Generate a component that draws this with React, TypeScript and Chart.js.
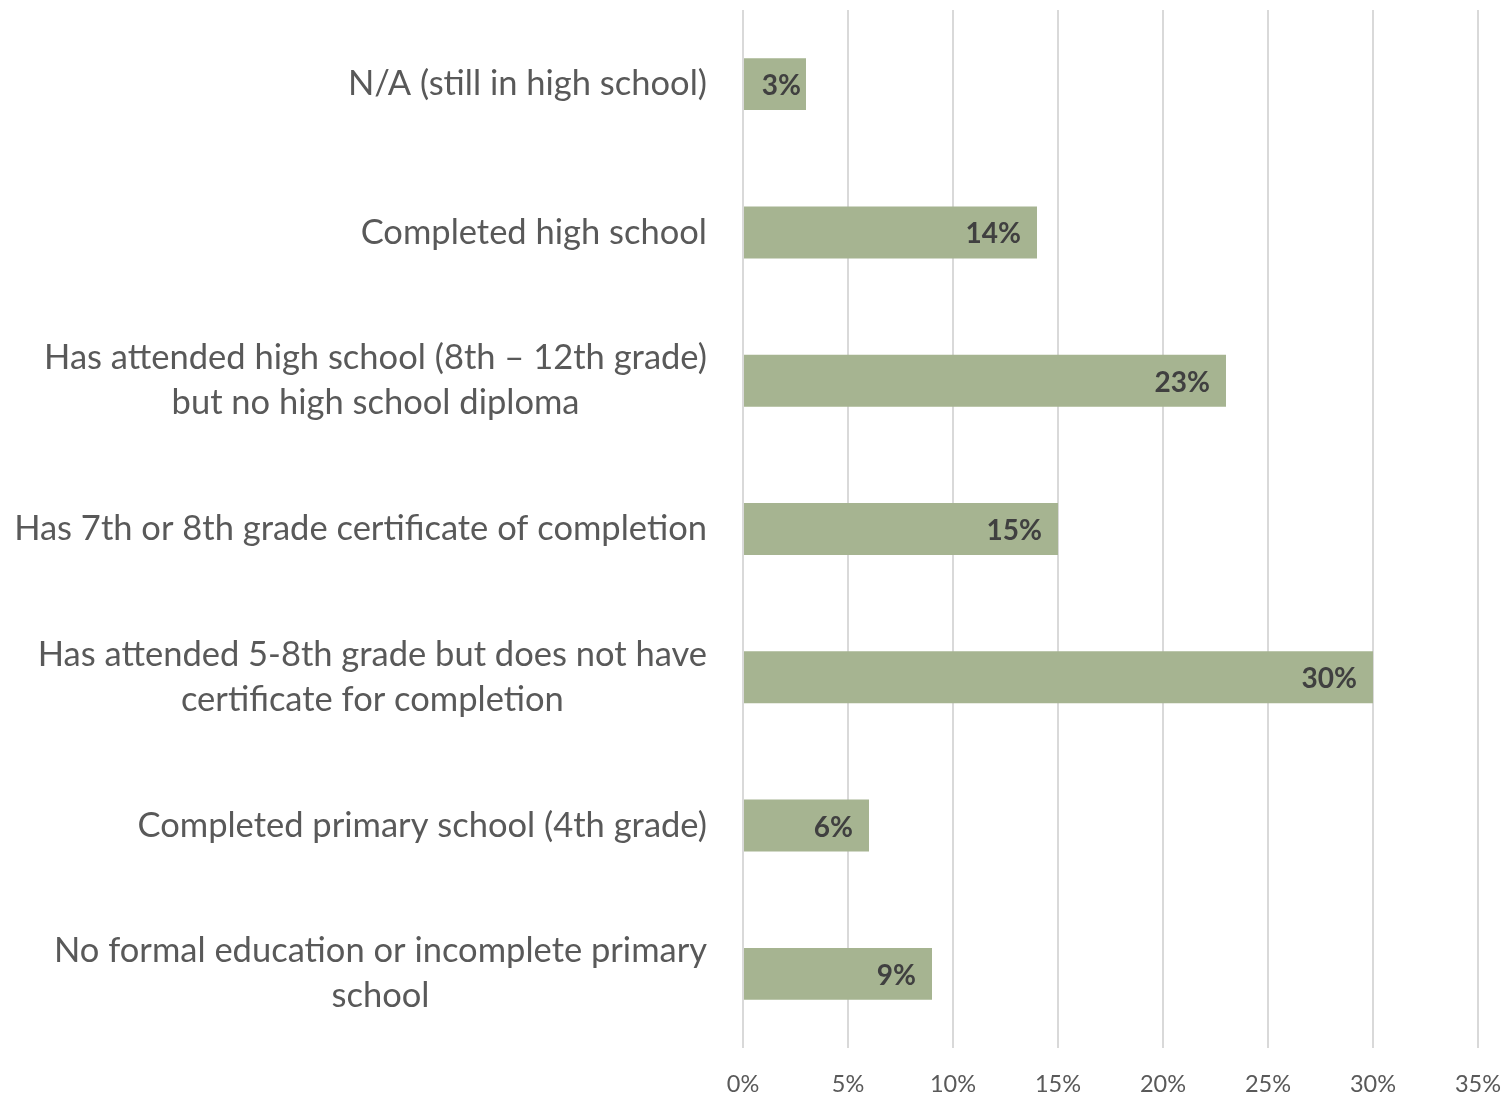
import React, { useEffect, useRef } from "react";
import { Chart, registerables } from "chart.js";

Chart.register(...registerables);

const categories: string[][] = [
  ["N/A (still in high school)"],
  ["Completed high school"],
  ["Has attended high school (8th – 12th grade)", "but no high school diploma"],
  ["Has 7th or 8th grade certificate of completion"],
  ["Has attended 5-8th grade but does not have", "certificate for completion"],
  ["Completed primary school (4th grade)"],
  ["No formal education or incomplete primary", "school"],
];
const values: number[] = [3, 14, 23, 15, 30, 6, 9];
const tickStep = 5;
const axisMax = 35;

const FONT = "Lato, 'Open Sans', sans-serif";

const categoryLabelPlugin = {
  id: "categoryLabels",
  afterDraw(chart: any) {
    const ctx = chart.ctx;
    const yScale = chart.scales.y;
    const right = chart.chartArea.left - 36;
    const lineH = 45;
    ctx.save();
    ctx.font = `34.5px ${FONT}`;
    ctx.fillStyle = "#595959";
    ctx.textAlign = "center";
    ctx.textBaseline = "middle";
    categories.forEach((lines, i) => {
      const yc = yScale.getPixelForTick(i);
      const maxW = Math.max(...lines.map((l) => ctx.measureText(l).width));
      const cx = right - maxW / 2;
      const startY = yc - ((lines.length - 1) * lineH) / 2;
      lines.forEach((l, j) => ctx.fillText(l, cx, startY + j * lineH));
    });
    ctx.restore();
  },
};

const dataLabelPlugin = {
  id: "dataLabels",
  afterDatasetsDraw(chart: any) {
    const ctx = chart.ctx;
    const meta = chart.getDatasetMeta(0);
    ctx.save();
    ctx.font = `bold 28px ${FONT}`;
    ctx.fillStyle = "#404040";
    ctx.textAlign = "right";
    ctx.textBaseline = "middle";
    meta.data.forEach((bar: any, i: number) => {
      const text = values[i] + "%";
      const w = ctx.measureText(text).width;
      const barW = bar.x - bar.base;
      const pad = w + 32 > barW ? 5 : 16;
      ctx.fillText(text, bar.x - pad, bar.y + 2);
    });
    ctx.restore();
  },
};

export default function App() {
  const ref = useRef<HTMLCanvasElement>(null);
  useEffect(() => {
    if (!ref.current) return;
    const chart = new Chart(ref.current, {
      type: "bar",
      data: {
        labels: categories.map((c) => c.join(" ")),
        datasets: [
          {
            data: values,
            backgroundColor: "#A6B491",
            borderWidth: 0,
            categoryPercentage: 1,
            barPercentage: 0.35,
          },
        ],
      },
      options: {
        indexAxis: "y",
        animation: false,
        responsive: false,
        maintainAspectRatio: false,
        layout: { padding: { top: 10, right: 30, left: 0, bottom: 0 } },
        plugins: { legend: { display: false }, tooltip: { enabled: false } },
        scales: {
          x: {
            min: 0,
            max: axisMax,
            border: { display: false },
            grid: { color: "#D9D9D9", lineWidth: 2, drawTicks: false },
            ticks: {
              stepSize: tickStep,
              padding: 22,
              color: "#595959",
              font: { family: FONT, size: 23.5 },
              callback: (v: any) => v + "%",
            },
            afterFit: (s: any) => {
              s.height = 49;
              s.paddingLeft = 0;
              s.paddingRight = 0;
            },
          },
          y: {
            border: { display: false },
            grid: { display: false },
            ticks: { display: false },
            afterFit: (s: any) => {
              s.width = 743;
              s.paddingTop = 0;
              s.paddingBottom = 0;
            },
          },
        },
      },
      plugins: [categoryLabelPlugin, dataLabelPlugin],
    });
    return () => chart.destroy();
  }, []);
  return (
    <div style={{ position: "absolute", left: 0, top: 0, width: 1508, height: 1097, background: "#fff" }}>
      <canvas ref={ref} width={1508} height={1097} style={{ width: 1508, height: 1097 }} />
    </div>
  );
}
